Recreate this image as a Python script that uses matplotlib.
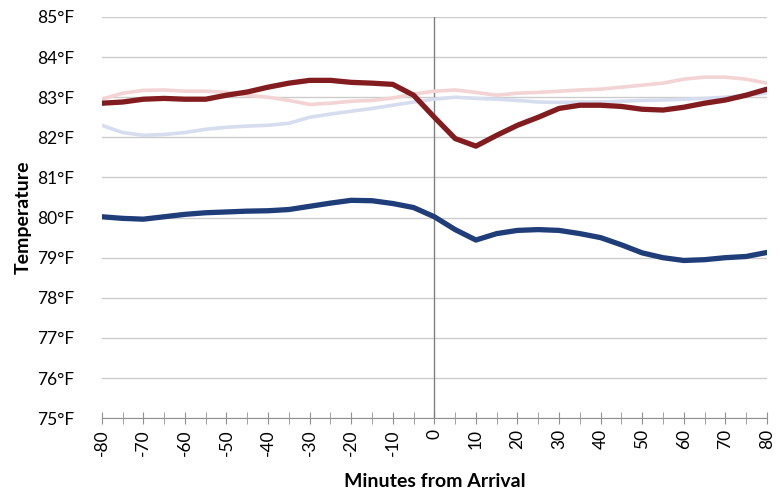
import matplotlib.pyplot as plt
import numpy as np

minutes = list(range(-80, 85, 5))

dark_red = [82.85, 82.88, 82.95, 82.97, 82.95, 82.95, 83.05, 83.13, 83.25, 83.35, 83.42,
            83.42, 83.37, 83.35, 83.32, 83.05, 82.5, 81.97, 81.78, 82.05, 82.3, 82.5,
            82.72, 82.8, 82.8, 82.77, 82.7, 82.68, 82.75, 82.85, 82.93, 83.05, 83.2]
dark_blue = [80.02, 79.98, 79.96, 80.02, 80.08, 80.12, 80.14, 80.16, 80.17, 80.2, 80.28,
             80.36, 80.43, 80.42, 80.35, 80.25, 80.02, 79.7, 79.44, 79.6, 79.68, 79.7,
             79.68, 79.6, 79.5, 79.32, 79.12, 79.0, 78.93, 78.95, 79.0, 79.03, 79.13]
light_red = [82.95, 83.1, 83.17, 83.18, 83.15, 83.15, 83.12, 83.05, 83.0, 82.92, 82.82,
             82.85, 82.9, 82.92, 82.98, 83.08, 83.15, 83.18, 83.12, 83.05, 83.1, 83.12,
             83.15, 83.18, 83.2, 83.25, 83.3, 83.35, 83.45, 83.5, 83.5, 83.45, 83.35]
light_blue = [82.3, 82.12, 82.05, 82.07, 82.12, 82.2, 82.25, 82.28, 82.3, 82.35, 82.5,
              82.58, 82.65, 82.72, 82.8, 82.88, 82.95, 83.0, 82.97, 82.95, 82.92, 82.88,
              82.87, 82.88, 82.88, 82.9, 82.92, 82.93, 82.95, 82.97, 83.0, 83.05, 83.1]

y_ticks = list(range(75, 86))
x_ticks = list(range(-80, 90, 10))

plt.rcParams['font.family'] = ['Lato', 'DejaVu Sans']

fig = plt.figure(figsize=(7.77, 4.99), dpi=100)
ax = fig.add_axes([0.131, 0.162, 0.856, 0.804])

ax.plot(minutes, light_blue, color='#d5ddee', lw=2.6, solid_capstyle='round')
ax.plot(minutes, light_red, color='#f3d3d3', lw=2.6, solid_capstyle='round')
ax.plot(minutes, dark_red, color='#821c1f', lw=3.8, solid_capstyle='round')
ax.plot(minutes, dark_blue, color='#1f3d78', lw=3.8, solid_capstyle='round')

ax.set_xlim(-80, 80)
ax.set_ylim(75, 85)
ax.set_yticks(y_ticks)
ax.set_yticklabels(['%d°F' % v for v in y_ticks])
ax.set_xticks(x_ticks)
ax.set_xticks(list(range(-75, 80, 10)), minor=True)
ax.set_xticklabels([str(v) for v in x_ticks], rotation=90)

ax.grid(axis='y', color='#cccccc', lw=1)
ax.set_axisbelow(True)
ax.axvline(0, color='#808080', lw=1, zorder=1)

for s in ['top', 'right', 'left']:
    ax.spines[s].set_visible(False)
ax.spines['bottom'].set_color('#909090')
ax.tick_params(axis='y', length=0, labelsize=12.5, pad=20)
ax.tick_params(axis='x', which='both', direction='inout', length=8, color='#909090',
               labelsize=12.5, pad=4)

ax.set_xlabel('Minutes from Arrival', fontsize=14, fontweight='bold', labelpad=12)
ax.set_ylabel('Temperature', fontsize=14, fontweight='bold', labelpad=4)

fig.savefig('out.png', dpi=100, facecolor='white')
